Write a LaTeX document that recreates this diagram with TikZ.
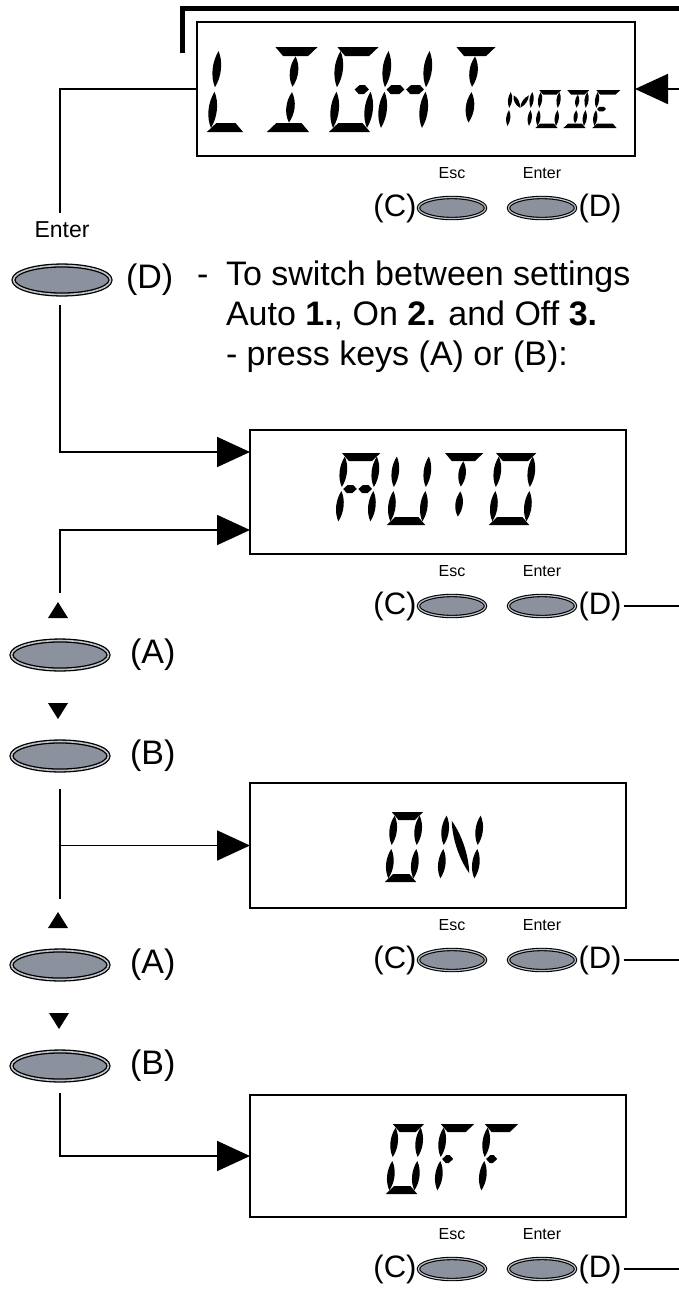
\documentclass[tikz,border=0pt]{standalone}
\usepackage{fontspec}
\setmainfont{Liberation Sans}
\usetikzlibrary{arrows.meta,calc,shapes.geometric}
\definecolor{btn}{RGB}{139,145,157}
\definecolor{btnring}{RGB}{192,195,201}

% ---- LCD segment helpers (local coords, y up, origin bottom-left) ----
\newcommand{\lcdlens}[4]{%
  \pgfmathsetmacro{\lcdDX}{(#3)-(#1)}%
  \pgfmathsetmacro{\lcdDY}{(#4)-(#2)}%
  \pgfmathsetmacro{\lcdLen}{veclen(\lcdDX,\lcdDY)}%
  \pgfmathsetmacro{\lcdNX}{0-(\lcdDY)/\lcdLen*\lcdT*0.62}%
  \pgfmathsetmacro{\lcdNY}{(\lcdDX)/\lcdLen*\lcdT*0.62}%
  \fill ({#1},{#2}) .. controls ({(#1)+0.3*(\lcdDX)+(\lcdNX)},{(#2)+0.3*(\lcdDY)+(\lcdNY)}) and ({(#3)-0.3*(\lcdDX)+(\lcdNX)},{(#4)-0.3*(\lcdDY)+(\lcdNY)}) .. ({#3},{#4}) .. controls ({(#3)-0.3*(\lcdDX)-(\lcdNX)},{(#4)-0.3*(\lcdDY)-(\lcdNY)}) and ({(#1)+0.3*(\lcdDX)-(\lcdNX)},{(#2)+0.3*(\lcdDY)-(\lcdNY)}) .. cycle;}
\newcommand{\lcdhex}[3]{%
  \fill ({#1},{#3}) -- ({(#1)+0.5*\lcdT},{(#3)+0.5*\lcdT}) -- ({(#2)-0.5*\lcdT},{(#3)+0.5*\lcdT}) -- ({#2},{#3}) -- ({(#2)-0.5*\lcdT},{(#3)-0.5*\lcdT}) -- ({(#1)+0.5*\lcdT},{(#3)-0.5*\lcdT}) -- cycle;}
\newcommand{\lcdsega}{\fill ({0.1*\lcdT},{\lcdH}) -- ({\lcdW-0.1*\lcdT},{\lcdH}) -- ({\lcdW-1.05*\lcdT},{\lcdH-\lcdT}) -- ({1.05*\lcdT},{\lcdH-\lcdT}) -- cycle;}
\newcommand{\lcdsegd}{\fill ({0.1*\lcdT},0) -- ({\lcdW-0.1*\lcdT},0) -- ({\lcdW-1.05*\lcdT},{\lcdT}) -- ({1.05*\lcdT},{\lcdT}) -- cycle;}
\newcommand{\lcdsegf}{\lcdlens{0.5*\lcdT}{0.5*\lcdH+0.25*\lcdT}{0.5*\lcdT}{\lcdH-0.45*\lcdT}}
\newcommand{\lcdsege}{\lcdlens{0.5*\lcdT}{0.45*\lcdT}{0.5*\lcdT}{0.5*\lcdH-0.25*\lcdT}}
\newcommand{\lcdsegb}{\lcdlens{\lcdW-0.5*\lcdT}{0.5*\lcdH+0.25*\lcdT}{\lcdW-0.5*\lcdT}{\lcdH-0.45*\lcdT}}
\newcommand{\lcdsegc}{\lcdlens{\lcdW-0.5*\lcdT}{0.45*\lcdT}{\lcdW-0.5*\lcdT}{0.5*\lcdH-0.25*\lcdT}}
\newcommand{\lcdseggl}{\lcdhex{0.7*\lcdT}{0.5*\lcdW-0.1*\lcdT}{0.5*\lcdH}}
\newcommand{\lcdseggr}{\lcdhex{0.5*\lcdW+0.1*\lcdT}{\lcdW-0.7*\lcdT}{0.5*\lcdH}}
\newcommand{\lcdsegi}{\lcdlens{0.5*\lcdW}{0.5*\lcdH+0.3*\lcdT}{0.5*\lcdW}{\lcdH-1.05*\lcdT}}
\newcommand{\lcdsegl}{\lcdlens{0.5*\lcdW}{1.05*\lcdT}{0.5*\lcdW}{0.5*\lcdH-0.3*\lcdT}}
\newcommand{\lcdsegdtl}{\lcdlens{1.2*\lcdT}{\lcdH-1.2*\lcdT}{0.5*\lcdW-0.05*\lcdT}{0.5*\lcdH+0.3*\lcdT}}
\newcommand{\lcdsegdtr}{\lcdlens{\lcdW-1.2*\lcdT}{\lcdH-1.2*\lcdT}{0.5*\lcdW+0.05*\lcdT}{0.5*\lcdH+0.3*\lcdT}}
\newcommand{\lcdsegdn}{\lcdlens{1.2*\lcdT}{\lcdH-1.1*\lcdT}{\lcdW-1.2*\lcdT}{1.1*\lcdT}}
% #1 x, #2 baseline y, #3 width, #4 height, #5 thickness, #6 segments
\newcommand{\lcdchar}[6]{%
  \begin{scope}[shift={(#1,#2)},x=1pt,y=1pt,xslant=0.1]
    \def\lcdW{#3}\def\lcdH{#4}\def\lcdT{#5}%
    \foreach \lcds in {#6}{\csname lcdseg\lcds\endcsname}%
  \end{scope}}
% key pad under a display: #1 name prefix, #2 y of display bottom
\newcommand{\keypad}[2]{%
  \node[keytxt] (#1esc) at (452,{#2+17}) {Esc};
  \node[keytxt] (#1ent) at (542,{#2+17}) {Enter};
  \node[smallbtn] (#1c) at (452,{#2+52}) {};
  \node[smallbtn] (#1d) at (542,{#2+52}) {};
  \node[smalllbl,anchor=east] (#1cl) at ([xshift=-2pt]#1c.west) {(C)};
  \node[smalllbl,anchor=west] (#1dl) at ([xshift=3pt]#1d.east) {(D)};
}

\begin{document}
\begin{tikzpicture}[x=1pt,y=-1pt,
  every node/.style={inner sep=0pt,outer sep=0pt},
  conn/.style={line width=1.8pt},
  arr/.style={conn,-{Triangle[length=33pt,width=30pt]}},
  lcdbox/.style={draw=black,line width=2.2pt,anchor=north west,minimum width=376pt},
  bigbtn/.style={ellipse,minimum width=97pt,minimum height=29pt,fill=btn,draw=black,line width=1.3pt,double=btnring,double distance=1.6pt},
  smallbtn/.style={ellipse,minimum width=67pt,minimum height=21pt,fill=btn,draw=black,line width=1.1pt,double=btnring,double distance=1.2pt},
  keytxt/.style={font=\fontsize{16}{19}\selectfont},
  biglbl/.style={font=\fontsize{34}{40}\selectfont},
  smalllbl/.style={font=\fontsize{31}{36}\selectfont},
  marker/.style={fill=black}]

\fill[white] (0,0) rectangle (679,1294);
\useasboundingbox (0,0) rectangle (679,1294);

% ---------- displays ----------
\node[lcdbox,minimum width=438pt,minimum height=134pt] (light) at (197,22) {};
\node[lcdbox,minimum height=124pt] (auto) at (250,430) {};
\node[lcdbox,minimum height=125pt] (on) at (250,783) {};
\node[lcdbox,minimum height=122pt] (off) at (250,1095) {};

% LIGHT MODE
\lcdchar{206}{132}{38}{85}{9}{f,e,d}
\lcdchar{266}{132}{44}{85}{9}{a,i,l,d}
\lcdchar{328}{132}{43}{85}{9}{a,f,e,d,c,gr}
\lcdchar{376}{132}{50}{85}{9}{f,e,b,c,gl,gr}
\lcdchar{447}{132}{41}{85}{9}{a,i,l}
\lcdchar{505}{128}{26}{38}{4.5}{f,e,b,c,dtl,dtr}
\lcdchar{535}{128}{23}{38}{4.5}{a,b,c,d,e,f}
\lcdchar{563}{128}{23}{38}{4.5}{a,b,c,d,i,l}
\lcdchar{592}{128}{25}{38}{4.5}{a,f,e,d,gl}
% AUTO
\lcdchar{334}{525}{40}{72}{8}{a,f,e,b,c,gl,gr}
\lcdchar{386}{525}{40}{72}{8}{f,e,b,c,d}
\lcdchar{437}{525}{40}{72}{8}{a,i,l}
\lcdchar{488}{525}{42}{72}{8}{a,b,c,d,e,f}
% ON
\lcdchar{384}{882}{33}{70}{8}{a,b,c,d,e,f}
\lcdchar{436}{882}{42}{70}{8}{f,e,b,c,dn}
% OFF
\lcdchar{385}{1194}{33}{70}{8}{a,b,c,d,e,f}
\lcdchar{433}{1194}{35}{70}{8}{a,f,e,gl}
\lcdchar{477}{1194}{35}{70}{8}{a,f,e,gl}

% ---------- key pads ----------
\keypad{lt}{156}
\keypad{au}{554}
\keypad{onk}{908}
\keypad{of}{1217}

% ---------- top frame and return arrow ----------
\coordinate (frameA) at (182,53);
\coordinate (frameB) at (679,8);
\draw[line width=5pt] (frameA) |- (frameB);
\coordinate (retR) at (679,90);
\draw[arr] (light.east -| retR) -- (light.east);

% right-hand exits
\coordinate (exR) at (679,0);
\draw[conn] ($(audl.east |- aud.center)+(2,0)$) -- (aud.center -| exR);
\draw[conn] ($(onkdl.east |- onkd.center)+(2,0)$) -- (onkd.center -| exR);
\draw[conn] ($(ofdl.east |- ofd.center)+(2,0)$) -- (ofd.center -| exR);

% ---------- left column ----------
\coordinate (ent1) at (60,213);
\draw[conn] (light.west) -| (ent1);
\node[font=\fontsize{23}{27}\selectfont] (entl) at (62,230) {Enter};
\node[bigbtn] (kd) at (62,280) {};
\node[biglbl,anchor=west] (kdl) at (126,280) {(D)};

\coordinate (v2) at (60,305);
\draw[arr] (v2) |- ($(auto.north west)+(0,22)$);
\coordinate (v3) at (60,593);
\draw[arr] (v3) |- ($(auto.south west)+(0,-24)$);

\fill[marker] (58,602) -- (68,618) -- (48,618) -- cycle;
\node[bigbtn] (ka1) at (60,655) {};
\node[biglbl,anchor=west] (ka1l) at (130,655) {(A)};
\fill[marker] (48,703) -- (68,703) -- (58,719) -- cycle;
\node[bigbtn] (kb1) at (60,756) {};
\node[biglbl,anchor=west] (kb1l) at (130,756) {(B)};

\coordinate (v4a) at (60,789);
\coordinate (v4b) at (60,899);
\draw[conn] (v4a) -- (v4b);
\draw[arr] (v4a |- on.west) -- (on.west);

\fill[marker] (58,912) -- (68,928) -- (48,928) -- cycle;
\node[bigbtn] (ka2) at (60,965) {};
\node[biglbl,anchor=west] (ka2l) at (130,965) {(A)};
\fill[marker] (49,1013) -- (69,1013) -- (59,1029) -- cycle;
\node[bigbtn] (kb2) at (60,1066) {};
\node[biglbl,anchor=west] (kb2l) at (130,1066) {(B)};

\coordinate (v5) at (60,1093);
\draw[arr] (v5) |- (off.west);

% ---------- instructions ----------
\node[biglbl,anchor=base west] (dash) at (197,285) {-};
\node[biglbl,anchor=base west] (ins1) at (226,285) {To switch between settings};
\node[biglbl,anchor=base west] (ins2) at (226,325) {Auto \textbf{1.}, On \textbf{2.} and Off \textbf{3.}};
\node[biglbl,anchor=base west] (ins3) at (226,365) {- press keys (A) or (B):};

\end{tikzpicture}
\end{document}
